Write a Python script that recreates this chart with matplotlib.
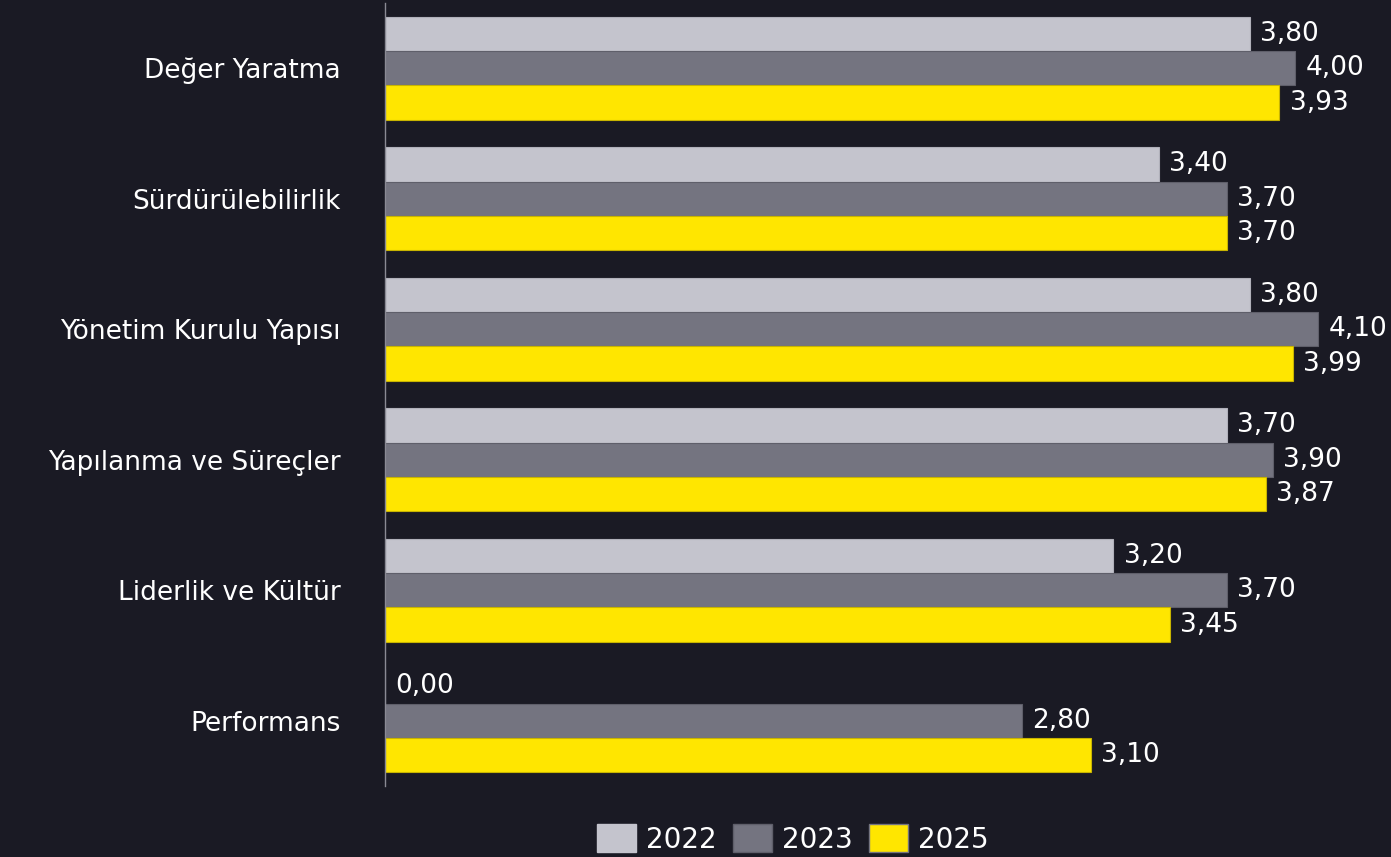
import numpy as np
import matplotlib.pyplot as plt
from matplotlib.patches import Patch

categories = ['Değer Yaratma', 'Sürdürülebilirlik', 'Yönetim Kurulu Yapısı',
              'Yapılanma ve Süreçler', 'Liderlik ve Kültür', 'Performans']
years = ['2022', '2023', '2025']
v2022 = [3.80, 3.40, 3.80, 3.70, 3.20, 0.00]
v2023 = [4.00, 3.70, 4.10, 3.90, 3.70, 2.80]
v2025 = [3.93, 3.70, 3.99, 3.87, 3.45, 3.10]

bg = '#1a1a24'
colors = ['#c4c4cd', '#747480', '#ffe600']
edges = ['#b0b0ba', '#5f5f6a', '#c8b400']

plt.rcParams['font.family'] = ['DejaVu Sans']

fig = plt.figure(figsize=(13.91, 8.57), dpi=100)
fig.patch.set_facecolor(bg)
ax = fig.add_axes([385 / 1391, 1 - 786 / 857, 1 - 385 / 1391, 783 / 857])
ax.set_facecolor(bg)

y = np.arange(len(categories))
h = 34.3 / 130.4
series = [v2022, v2023, v2025]
for i, vals in enumerate(series):
    pos = y + (i - 1) * h
    bars = ax.barh(pos, vals, height=h, color=colors[i], edgecolor=edges[i], linewidth=0.8)
    for b, v in zip(bars, vals):
        ax.text(b.get_width() + 0.045, b.get_y() + b.get_height() / 2,
                f'{v:.2f}'.replace('.', ','), va='center', ha='left',
                color='white', fontsize=19)

ax.set_ylim(len(categories) - 0.5, -0.5)
ax.set_xlim(0, (1391 - 385) / 227.6)
ax.set_yticks(y)
ax.set_yticklabels(categories, color='white', fontsize=19)
ax.tick_params(axis='y', length=0, pad=32)
ax.set_xticks([])
for s in ['top', 'right', 'bottom']:
    ax.spines[s].set_visible(False)
ax.spines['left'].set_color('#8a8a94')
ax.spines['left'].set_linewidth(1)

handles = [Patch(facecolor=colors[0], edgecolor=colors[0]),
           Patch(facecolor=colors[1], edgecolor='#5f5f6a'),
           Patch(facecolor=colors[2], edgecolor='#747480')]
leg = fig.legend(handles, years, loc='center', bbox_to_anchor=(793 / 1391, 1 - 839 / 857),
                 ncol=3, frameon=False, fontsize=20, handlelength=1.4, handleheight=1.15,
                 handletextpad=0.35, columnspacing=0.6)
for t in leg.get_texts():
    t.set_color('white')

fig.savefig('out.png', dpi=100, facecolor=bg)
